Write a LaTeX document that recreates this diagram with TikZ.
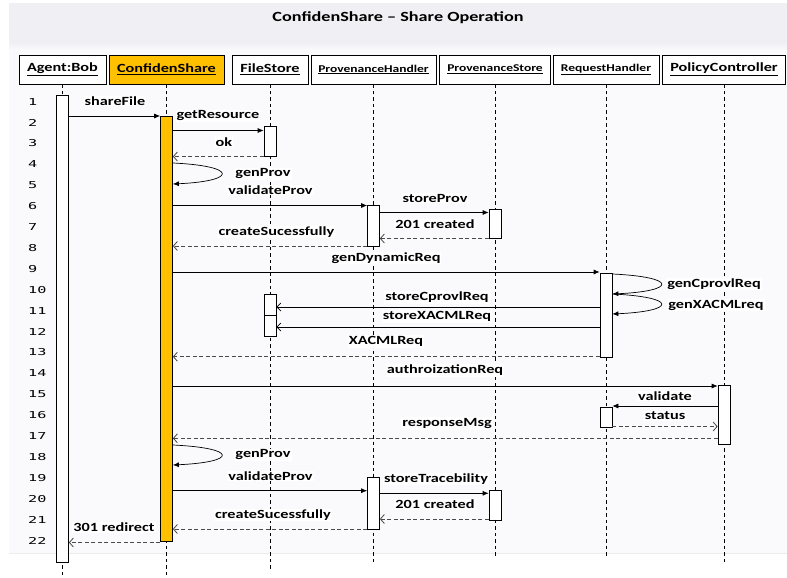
\documentclass[tikz,border=0pt]{standalone}
\usepackage{fontspec}
\setmainfont{Carlito}[FakeStretch=1.3]
\newfontfamily\rowfont{DejaVu Sans Mono}[FakeStretch=1.6]
\usetikzlibrary{arrows.meta,positioning,calc}
\definecolor{panelbg}{HTML}{FAFAFD}
\definecolor{bandbg}{HTML}{EFEFF4}
\definecolor{csorange}{HTML}{FFC000}
\definecolor{retgray}{HTML}{4A4A4A}
\tikzset{
  head/.style={
    draw=black,
    line width=0.8pt,
    fill=white,
    minimum height=29pt,
    inner sep=0pt,
    font=\bfseries\fontsize{12.5}{13}\selectfont
  },
  smallhead/.style={head, font=\bfseries\fontsize{10.4}{11}\selectfont},
  bar/.style={draw=black, line width=0.7pt, fill=white, minimum width=12pt, inner sep=0pt},
  life/.style={draw=black, line width=0.6pt, dash pattern=on 3.5pt off 3pt},
  call/.style={draw=black, line width=0.7pt, -{Latex[length=6pt,width=5pt]}},
  store/.style={draw=black, line width=0.7pt, -{Straight Barb[length=4pt,width=8pt]}},
  ret/.style={draw=retgray, line width=0.8pt, dash pattern=on 4pt off 2.5pt,
    -{Straight Barb[length=4pt,width=9pt]}},
  msglabel/.style={fill=white, inner sep=1pt, font=\bfseries\fontsize{12.5}{13}\selectfont},
  rownum/.style={anchor=west, inner sep=0pt, font=\rowfont\fontsize{9.5}{10}\selectfont},
  title/.style={font=\bfseries\fontsize{14}{15}\selectfont}
}
% activation bar: [style]{name}{x}{top}{bottom}
\newcommand{\actbar}[5][]{
  \node[bar, #1, minimum height={(#5-#4)*1pt}] (#2) at (#3,{(#4+#5)/2}) {};
}
% horizontal message: {style}{from}{to}{y}
\newcommand{\msg}[4]{
  \draw[#1] (#2 |- 0,#4) -- (#3 |- 0,#4);
}
% message to self: {bar}{y from}{y to}
\newcommand{\selfmsg}[3]{
  \draw[call] (#1.east |- 0,#2)
    .. controls ($(#1.east |- 0,#2)+(65,3)$) and ($(#1.east |- 0,#3)+(65,-3)$)
    .. (#1.east |- 0,#3);
}

\begin{document}
\begin{tikzpicture}[x=1pt, y=-1pt]
  \useasboundingbox (0,0) rectangle (787,578);

  % panel
  \fill[panelbg] (9,3) rectangle (787,553);
  \fill[bandbg] (9,3) rectangle (787,42);
  \shade[top color=bandbg, bottom color=panelbg] (9,42) rectangle (787,50);
  \draw[gray!15] (9,553) -- (787,553);
  \node[title] (title) at (398,18) {ConfidenShare – Share Operation};

  % participants
  \node[head, minimum width=87pt] (bob) at (62.5,69.5) {\underline{Agent:Bob}};
  \node[head, minimum width=115pt, fill=csorange] (cs) at (166.5,69.5) {\underline{ConfidenShare}};
  \node[head, minimum width=76pt] (fs) at (270,69.5) {\underline{FileStore}};
  \node[smallhead, minimum width=125pt] (ph) at (373.5,69.5) {\underline{ProvenanceHandler}};
  \node[smallhead, minimum width=111pt] (ps) at (495,69.5) {\underline{ProvenanceStore}};
  \node[smallhead, minimum width=106pt] (rh) at (606,69.5) {\underline{RequestHandler}};
  \node[head, minimum width=123pt] (pc) at (724,69.5) {\underline{PolicyController}};

  % lifelines
  \draw[life] (bob.south) -- (bob.south |- 0,578);
  \draw[life] (cs.south) -- (cs.south |- 0,578);
  \draw[life] (fs.south) -- (fs.south |- 0,569);
  \draw[life] (ph.south) -- (ph.south |- 0,563);
  \draw[life] (ps.south) -- (ps.south |- 0,556);
  \draw[life] (rh.south) -- (rh.south |- 0,556);
  \draw[life] (pc.south) -- (pc.south |- 0,562);

  % step numbers
  \foreach \n in {1,...,22}
    \node[rownum] (row\n) at (28,{101.7+(\n-1)*20.9}) {\n};

  % activations
  \actbar{bob1}{62.5}{95}{562}
  \actbar[fill=csorange]{cs1}{166.5}{116}{541}
  \actbar{fs1}{270}{126}{156.5}
  \actbar{fs2a}{270}{294}{315}
  \actbar{fs2b}{270}{315}{336}
  \actbar{ph1}{373.5}{205}{246}
  \actbar{ph2}{373.5}{477}{529}
  \actbar{ps1}{495}{209}{238.5}
  \actbar{ps2}{495}{490}{520.5}
  \actbar{rh1}{606}{273}{357}
  \actbar{rh2}{606}{407}{427.5}
  \actbar{pc1}{724}{385}{444.5}

  % messages
  \msg{call}{bob1.east}{cs1.west}{116}
  \node[msglabel] (lsharefile) at (115,101) {shareFile};
  \msg{call}{cs1.east}{fs1.west}{130.5}
  \node[msglabel] (lgetres) at (218,116) {getResource};
  \msg{ret}{fs1.west}{cs1.east}{156.5}
  \node[msglabel] (lok) at (224,142) {ok};
  \selfmsg{cs1}{163}{184}
  \node[msglabel] (lgenprov) at (263,174) {genProv};
  \node[msglabel] (lvalprov) at (270.5,190) {validateProv};
  \msg{call}{cs1.east}{ph1.west}{205.5}
  \msg{call}{ph1.east}{ps1.west}{212.5}
  \node[msglabel] (lstoreprov) at (435,198) {storeProv};
  \msg{ret}{ps1.west}{ph1.east}{238.5}
  \node[msglabel] (lcreated) at (435,224) {201 created};
  \msg{ret}{ph1.west}{cs1.east}{246}
  \node[msglabel] (lcreatesucc) at (276.5,232) {createSucessfully};

  \msg{call}{cs1.east}{rh1.west}{272}
  \node[msglabel] (lgendyn) at (386,258) {genDynamicReq};
  \selfmsg{rh1}{274}{294}
  \node[msglabel] (lgencprov) at (714,284) {genCprovlReq};
  \selfmsg{rh1}{294}{314}
  \node[msglabel] (lgenxacml) at (716,305) {genXACMLreq};
  \msg{store}{rh1.west}{fs2a.east}{307}
  \node[msglabel] (lstorecprov) at (437,297.5) {storeCprovlReq};
  \msg{store}{rh1.west}{fs2b.east}{327}
  \node[msglabel] (lstorexacml) at (437,316.5) {storeXACMLReq};
  \msg{ret}{rh1.west}{cs1.east}{356.7}
  \node[msglabel] (lxacmlreq) at (386,341.5) {XACMLReq};

  \msg{call}{cs1.east}{pc1.west}{386}
  \node[msglabel] (lauthreq) at (445,370.5) {authroizationReq};
  \msg{call}{pc1.west}{rh2.east}{406}
  \node[msglabel] (lvalidate) at (665,396) {validate};
  \msg{ret}{rh2.east}{pc1.west}{426.5}
  \node[msglabel] (lstatus) at (665,416) {status};
  \msg{ret}{pc1.west}{cs1.east}{438.3}
  \node[msglabel] (lresponse) at (447,423.5) {responseMsg};

  \selfmsg{cs1}{445}{465}
  \node[msglabel] (lgenprovb) at (263,455) {genProv};
  \node[msglabel] (lvalprovb) at (270.5,476) {validateProv};
  \msg{call}{cs1.east}{ph2.west}{490.7}
  \msg{call}{ph2.east}{ps2.west}{493.3}
  \node[msglabel] (lstoretrace) at (436,479) {storeTracebility};
  \msg{ret}{ps2.west}{ph2.east}{519}
  \node[msglabel] (lcreatedb) at (435,504.5) {201 created};
  \msg{ret}{ph2.west}{cs1.east}{529}
  \node[msglabel] (lcreatesuccb) at (273,515) {createSucessfully};
  \msg{ret}{cs1.west}{bob1.east}{542.5}
  \node[msglabel] (lredirect) at (114,527.5) {301 redirect};

\end{tikzpicture}
\end{document}
